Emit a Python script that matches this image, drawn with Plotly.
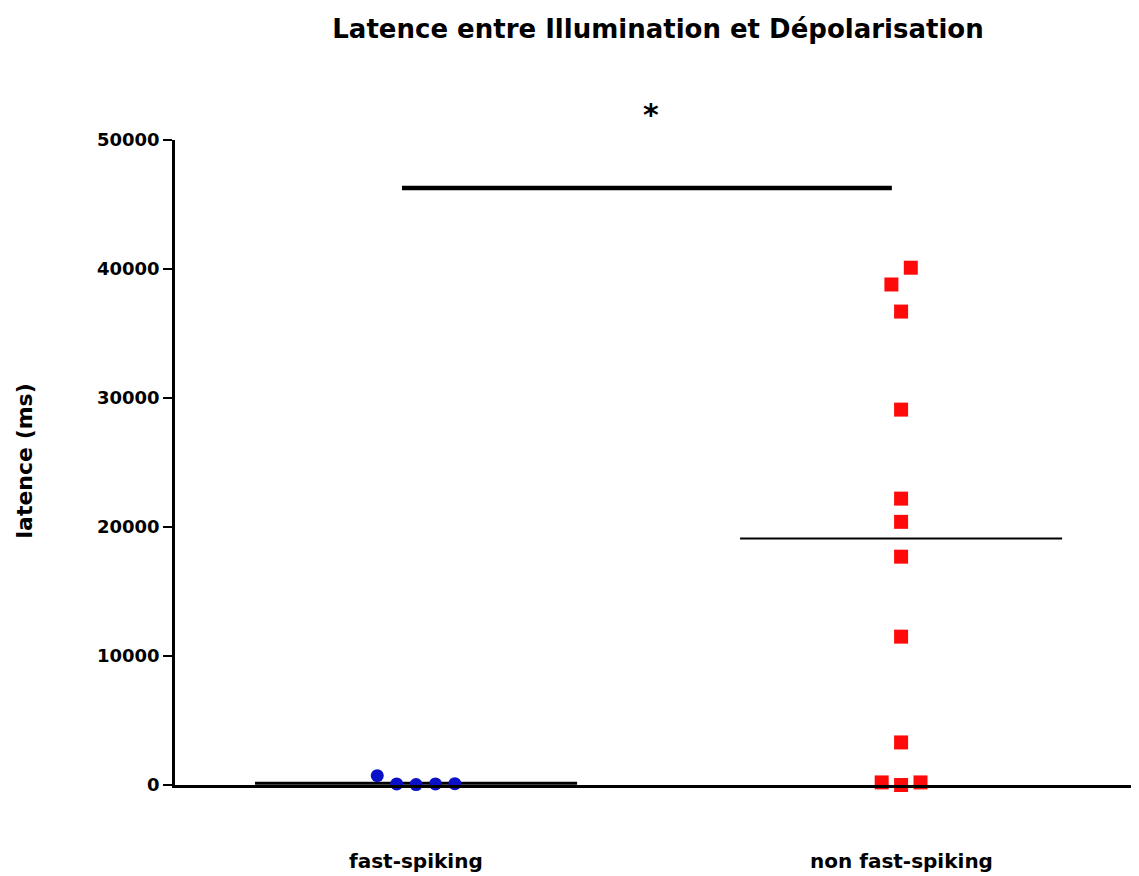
import plotly.graph_objects as go

categories = ["fast-spiking", "non fast-spiking"]
cat_pos = [0, 1]

fs_offsets = [-0.08, -0.04, 0.0, 0.04, 0.08]
fs_values = [720, 80, 30, 80, 100]

nfs_offsets = [0.02, -0.02, 0.0, 0.0, 0.0, 0.0, 0.0, 0.0, 0.0, -0.04, 0.0, 0.04]
nfs_values = [40100, 38800, 36700, 29100, 22200, 20400, 17700, 11500, 3300, 200, 0, 200]

means = [130, 19100]
mean_halfwidth = 0.332

sig_x = [-0.029, 0.981]
sig_y = 46280
sig_text = "*"

yticks = [0, 10000, 20000, 30000, 40000, 50000]

FONT = "DejaVu Sans"

fig = go.Figure()

# mean lines
for i, m in enumerate(means):
    fig.add_trace(go.Scatter(
        x=[cat_pos[i] - mean_halfwidth, cat_pos[i] + mean_halfwidth], y=[m, m],
        mode="lines", line=dict(color="black", width=3 if i == 0 else 2),
        showlegend=False, hoverinfo="skip", cliponaxis=False))

fig.add_trace(go.Scatter(
    x=[cat_pos[0] + o for o in fs_offsets], y=fs_values, mode="markers",
    marker=dict(symbol="circle", size=13, color="#0a0fc8"),
    name=categories[0], showlegend=False, cliponaxis=False))

fig.add_trace(go.Scatter(
    x=[cat_pos[1] + o for o in nfs_offsets], y=nfs_values, mode="markers",
    marker=dict(symbol="square", size=14, color="#ff0a0a"),
    name=categories[1], showlegend=False, cliponaxis=False))

# significance bar
fig.add_trace(go.Scatter(
    x=sig_x, y=[sig_y, sig_y], mode="lines", line=dict(color="black", width=4.5),
    showlegend=False, hoverinfo="skip", cliponaxis=False))

annotations = [
    dict(x=0.4896, y=1.07, xref="paper", yref="paper", text="<b>" + sig_text + "</b>",
         showarrow=False, font=dict(family=FONT, size=30, color="black")),
    dict(x=-0.17, y=0.502, xref="paper", yref="paper", text="<b>latence (ms)</b>",
         textangle=-90, showarrow=False, font=dict(family=FONT, size=22, color="black")),
]
for c, p in zip(categories, cat_pos):
    annotations.append(dict(x=p, y=-0.140, xref="x", yref="paper", text="<b>" + c + "</b>",
                            showarrow=False, font=dict(family=FONT, size=20, color="black")))

fig.update_layout(
    width=1139, height=876,
    margin=dict(l=167, r=0, t=132, b=99),
    plot_bgcolor="white", paper_bgcolor="white",
    title=dict(text="<b>Latence entre Illumination et Dépolarisation</b>",
               x=650 / 1139, xanchor="center", xref="container",
               y=1 - 21 / 876, yanchor="middle", yref="container",
               font=dict(family=FONT, size=26, color="black")),
    xaxis=dict(range=[-0.497, 1.507], showline=True, linecolor="black", linewidth=2.5,
               showgrid=False, zeroline=False, showticklabels=False, ticks=""),
    yaxis=dict(range=[0, 50000], tickvals=yticks, ticktext=["<b>%d</b>" % v for v in yticks],
               showline=True, linecolor="black", linewidth=2.5, ticks="outside",
               ticklen=9, tickwidth=2, tickcolor="black", showgrid=False, zeroline=False,
               tickfont=dict(family=FONT, size=18, color="black")),
    annotations=annotations,
)

fig.write_html("out.html")
